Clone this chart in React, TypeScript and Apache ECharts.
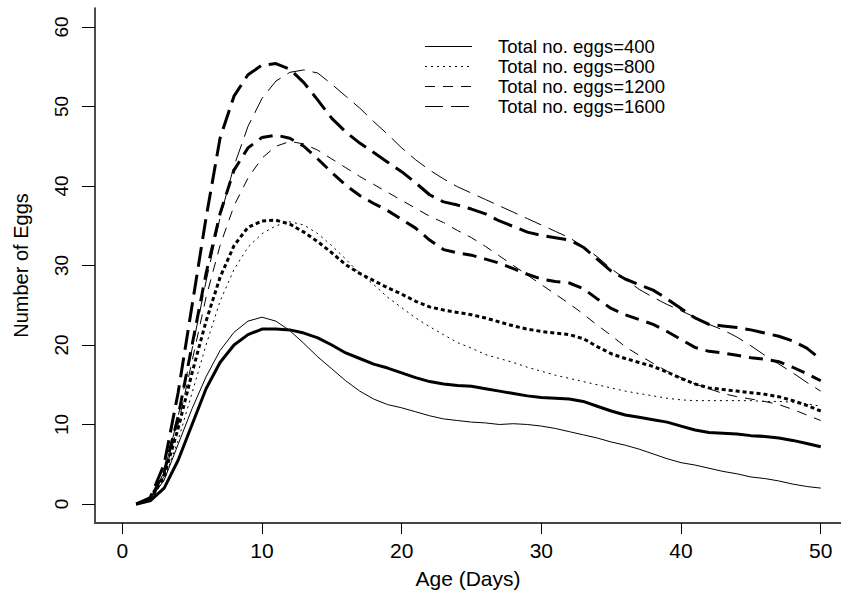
import React, { useEffect, useRef } from "react";
import * as echarts from "echarts";

const days = [1,2,3,4,5,6,7,8,9,10,11,12,13,14,15,16,17,18,19,20,21,22,23,24,25,26,27,28,29,30,31,32,33,34,35,36,37,38,39,40,41,42,43,44,45,46,47,48,49,50];

const thin400 = [0,0.6,3,7.5,12,16,19.3,21.6,23,23.5,23,21.8,20.2,18.5,17,15.5,14.2,13.2,12.5,12.1,11.6,11.1,10.7,10.5,10.3,10.2,10.0,10.1,10.0,9.8,9.5,9.1,8.7,8.3,7.8,7.4,6.9,6.3,5.7,5.2,4.9,4.5,4.1,3.8,3.4,3.2,2.9,2.5,2.2,2.0];
const thick400 = [0,0.4,2,5.5,10,14.5,17.8,20,21.3,22,22,21.9,21.5,20.9,20,19,18.3,17.6,17.1,16.5,15.9,15.4,15.1,14.9,14.8,14.5,14.2,13.9,13.6,13.4,13.3,13.2,12.9,12.3,11.7,11.2,10.9,10.6,10.3,9.8,9.3,9.0,8.9,8.8,8.6,8.5,8.3,8.0,7.6,7.2];
const thin800 = [0,0.6,3,8,14,20,25.5,29.5,32.3,34,35,35.5,35.1,34,32.5,30.8,29,27.6,26,24.7,23.4,22.3,21.3,20.3,19.6,18.8,18.3,17.8,17.2,16.7,16.2,15.8,15.4,15.0,14.6,14.2,13.9,13.6,13.3,13.1,13.0,13.0,13.0,13.0,13.0,12.9,12.9,12.8,12.6,12.3];
const thick800 = [0,0.5,3.5,9.5,16.5,23,28.5,32.5,34.8,35.6,35.7,35.2,34.2,33,31.6,30.1,29,28.1,27.2,26.4,25.5,24.8,24.4,24.1,23.8,23.4,22.9,22.4,22,21.7,21.5,21.3,20.8,19.8,18.9,18.3,17.8,17.3,16.6,15.8,15.1,14.6,14.4,14.2,14.0,13.8,13.5,13.0,12.4,11.7];
const thin1200 = [0,0.6,3.5,10,18,26,32.5,37.5,41,43.5,45,45.6,45.3,44.5,43.4,42.3,41.2,40.2,39.2,38.2,37.2,36.2,35.4,34.4,33.5,32.4,31.2,30,28.8,27.6,26.4,25.2,23.9,22.5,21.2,19.8,18.7,17.7,16.7,15.9,15.1,14.5,13.9,13.5,13.2,12.9,12.5,11.9,11.2,10.5];
const thick1200 = [0,0.6,4,11,20,29,36.5,42,44.8,46.1,46.4,46,45,43.4,41.7,40.1,38.8,37.8,36.9,35.8,34.7,33.2,32,31.6,31.3,30.8,30.3,29.6,28.9,28.3,28.0,27.8,27.1,25.8,24.6,23.8,23.2,22.6,21.7,20.7,19.7,19.2,19.0,18.7,18.4,18.2,17.9,17.2,16.4,15.5];
const thin1600 = [0,0.7,4,11,19.5,28,36,42.5,47.5,51,53.2,54.3,54.6,54.2,52.8,51.3,49.8,48.1,46.5,44.8,43.3,42,40.9,39.9,39.1,38.3,37.5,36.7,35.9,35.1,34.3,33.5,32.4,31.1,29.6,28.3,27,26,25.1,24.3,23.5,22.6,21.9,21.0,19.9,18.7,17.6,16.5,15.3,14.2];
const thick1600 = [0,0.8,5,14,25,36,46,51.3,54,55.2,55.4,54.7,53,50.8,48.5,46.8,45.4,44.2,43,41.8,40.4,38.9,38,37.6,37.1,36.5,35.6,34.9,34.2,33.8,33.5,33.2,32.3,30.8,29.3,28.3,27.6,26.9,25.8,24.6,23.4,22.6,22.4,22.2,21.9,21.5,21.1,20.5,19.6,18.2];

const legendNames = ["Total no. eggs=400", "Total no. eggs=800", "Total no. eggs=1200", "Total no. eggs=1600"];
const xTicks = [0, 10, 20, 30, 40, 50];
const yTicks = [0, 10, 20, 30, 40, 50, 60];

const FONT = "'Liberation Sans', Arial, Helvetica, sans-serif";

const thinDash: (number[] | null)[] = [null, [2, 4], [10, 8], [18, 8]];
const thickDash: (number[] | null)[] = [null, [4, 3], [14, 8], [20, 8]];

export default function App() {
  const ref = useRef<HTMLDivElement>(null);
  useEffect(() => {
    if (!ref.current) return;
    const chart = echarts.init(ref.current, null, { renderer: "svg" });
    const pair = (vals: number[]) => days.map((d, i) => [d, vals[i]]);
    const mk = (name: string, vals: number[], width: number, dash: number[] | null, z: number) => ({
      name,
      type: "line",
      data: pair(vals),
      symbol: "none",
      showSymbol: false,
      smooth: false,
      z,
      color: "#000",
      lineStyle: { color: "#000", width, type: dash ? dash : "solid", cap: "butt" },
      emphasis: { disabled: true },
    });
    const legendEls: any[] = [];
    legendNames.forEach((name, i) => {
      const y = 46 + i * 20;
      legendEls.push({
        type: "line",
        shape: { x1: 425, y1: y + 0.5, x2: 472, y2: y + 0.5 },
        style: { stroke: "#000", lineWidth: 1, lineDash: thinDash[i] || undefined },
        silent: true,
      });
      legendEls.push({
        type: "text",
        x: 498,
        y,
        style: {
          text: name,
          fontFamily: FONT,
          fontSize: 18.5,
          fill: "#000",
          align: "left",
          verticalAlign: "middle",
        },
        silent: true,
      });
    });
    chart.setOption({
      animation: false,
      backgroundColor: "#fff",
      textStyle: { fontFamily: FONT },
      grid: { left: 95, right: 0, top: 8, bottom: 76, containLabel: false },
      graphic: legendEls,
      xAxis: {
        type: "value",
        min: -1.95,
        max: 51.45,
        name: "Age (Days)",
        nameLocation: "middle",
        nameGap: 45,
        nameTextStyle: { fontFamily: FONT, fontSize: 21, color: "#000" },
        splitLine: { show: false },
        axisLine: { show: true, onZero: false, lineStyle: { color: "#444", width: 2 } },
        axisTick: { show: true, length: 11, customValues: xTicks, lineStyle: { color: "#000", width: 1 } },
        axisLabel: { customValues: xTicks, margin: 17, fontFamily: FONT, fontSize: 21, color: "#000" },
      },
      yAxis: {
        type: "value",
        min: -2.39,
        max: 62.39,
        name: "Number of Eggs",
        nameLocation: "middle",
        nameGap: 64,
        nameTextStyle: { fontFamily: FONT, fontSize: 20, color: "#000" },
        splitLine: { show: false },
        axisLine: { show: true, onZero: false, lineStyle: { color: "#111", width: 1.5 } },
        axisTick: { show: true, length: 13, customValues: yTicks, lineStyle: { color: "#000", width: 1 } },
        axisLabel: { customValues: yTicks, rotate: 90, margin: 24, fontFamily: FONT, fontSize: 19, color: "#000" },
      },
      series: [
        mk(legendNames[0], thin400, 1, thinDash[0], 2),
        mk(legendNames[1], thin800, 1, thinDash[1], 2),
        mk(legendNames[2], thin1200, 1, thinDash[2], 2),
        mk(legendNames[3], thin1600, 1, thinDash[3], 2),
        mk("thick400", thick400, 3, thickDash[0], 3),
        mk("thick800", thick800, 3, thickDash[1], 3),
        mk("thick1200", thick1200, 3, thickDash[2], 3),
        mk("thick1600", thick1600, 3, thickDash[3], 3),
      ],
    });
    return () => chart.dispose();
  }, []);
  return <div ref={ref} style={{ width: 841, height: 599, position: "absolute", left: 0, top: 0 }} />;
}
